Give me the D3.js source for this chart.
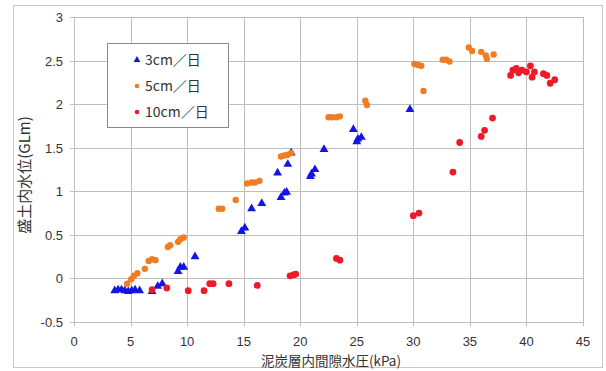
<!DOCTYPE html>
<html>
<head>
<meta charset="utf-8">
<script src="https://cdn.jsdelivr.net/npm/d3@7"></script>
<style>
  body { margin: 0; background: #fff; }
  svg text { font-family: "Noto Sans CJK JP", "Liberation Sans", sans-serif; fill: #333; }
  svg text.num { font-family: "Liberation Sans", sans-serif; }
</style>
</head>
<body>
<svg id="chart" width="606" height="371"></svg>
<script>
'use strict';

// 3cm/日
var rate3 = [
  [3.6, -0.14], [3.9, -0.13], [4.2, -0.13], [4.5, -0.14], [4.8, -0.15], [5.1, -0.14],
  [5.4, -0.13], [5.8, -0.14], [6.9, -0.15], [7.4, -0.09], [7.8, -0.06], [9.2, 0.08],
  [9.4, 0.13], [9.7, 0.13], [10.7, 0.25], [14.8, 0.54], [15.1, 0.58], [15.7, 0.8],
  [16.6, 0.86], [18.3, 0.93], [18.6, 0.98], [18.8, 0.99], [18.0, 1.21], [18.9, 1.31],
  [19.2, 1.44], [20.9, 1.17], [21.0, 1.2], [21.3, 1.25], [22.1, 1.48], [24.7, 1.71],
  [25.0, 1.57], [25.1, 1.6], [25.4, 1.62], [29.7, 1.94]
];

// 5cm/日
var rate5 = [
  [4.7, -0.06], [5.06, -0.01], [5.3, 0.03], [5.6, 0.06], [6.26, 0.11], [6.6, 0.2],
  [6.9, 0.22], [7.2, 0.21], [8.3, 0.36], [8.5, 0.38], [9.2, 0.42], [9.4, 0.45],
  [9.7, 0.47], [12.8, 0.8], [13.1, 0.8], [14.3, 0.9], [15.3, 1.09], [15.7, 1.1],
  [16.0, 1.1], [16.4, 1.12], [18.3, 1.4], [18.6, 1.41], [18.9, 1.42], [19.2, 1.44],
  [22.5, 1.85], [22.8, 1.85], [23.2, 1.85], [23.5, 1.86], [25.75, 2.04], [25.9, 1.99],
  [30.1, 2.46], [30.4, 2.45], [30.7, 2.44], [30.9, 2.15], [32.6, 2.51], [32.9, 2.51],
  [33.2, 2.49], [34.9, 2.65], [35.2, 2.61], [36.0, 2.6], [36.4, 2.56], [36.5, 2.52],
  [37.1, 2.57]
];

// 10cm/日
var rate10 = [
  [6.9, -0.13], [8.2, -0.11], [10.1, -0.14], [11.5, -0.14], [12.0, -0.06], [12.3, -0.06],
  [13.7, -0.06], [16.2, -0.08], [19.1, 0.03], [19.4, 0.04], [19.6, 0.05], [23.2, 0.23],
  [23.5, 0.21], [30.0, 0.72], [30.5, 0.75], [33.5, 1.22], [34.1, 1.56], [36.0, 1.63],
  [36.3, 1.7], [37.0, 1.84], [38.6, 2.33], [38.8, 2.39], [39.1, 2.41], [39.3, 2.36],
  [39.6, 2.39], [40.0, 2.37], [40.35, 2.44], [40.5, 2.31], [40.7, 2.37], [41.5, 2.35],
  [41.8, 2.33], [42.1, 2.24], [42.5, 2.28]
];

var seriesNames = ['3cm／日', '5cm／日', '10cm／日'];
var xTicks = [0, 5, 10, 15, 20, 25, 30, 35, 40, 45];
var yTicks = [-0.5, 0, 0.5, 1, 1.5, 2, 2.5, 3];
var xTitle = '泥炭層内間隙水圧(kPa)';
var yTitle = '盛土内水位(GLm)';

var svg = d3.select('#chart');

// outer frame
svg.append('rect')
  .attr('x', 13.5).attr('y', 5.5)
  .attr('width', 589).attr('height', 362)
  .attr('fill', 'none').attr('stroke', '#c8c8c8');

var x = d3.scaleLinear().domain([0, 45]).range([74, 583]);
var y = d3.scaleLinear().domain([-0.5, 3]).range([322, 17]);

// grid
var grid = svg.append('g').attr('stroke', '#bdbdbd').attr('stroke-width', 1);
xTicks.forEach(function(t) {
  var px = Math.round(x(t)) + 0.5;
  grid.append('line').attr('x1', px).attr('x2', px)
    .attr('y1', y(3)).attr('y2', y(-0.5) + 4);
});
yTicks.forEach(function(t) {
  var py = Math.round(y(t)) + 0.5;
  grid.append('line').attr('x1', x(0) - 4).attr('x2', x(45))
    .attr('y1', py).attr('y2', py);
});

// tick labels
svg.append('g').selectAll('text').data(yTicks).enter().append('text')
  .attr('class', 'num')
  .attr('x', 63).attr('y', function(d) { return y(d) + 5; })
  .attr('text-anchor', 'end').attr('font-size', 13)
  .text(function(d) { return d; });

svg.append('g').selectAll('text').data(xTicks).enter().append('text')
  .attr('class', 'num')
  .attr('x', function(d) { return x(d); }).attr('y', 346)
  .attr('text-anchor', 'middle').attr('font-size', 13)
  .text(function(d) { return d; });

// axis titles
svg.append('text')
  .attr('x', 331).attr('y', 366)
  .attr('text-anchor', 'middle').attr('font-size', 13.5)
  .text(xTitle);

svg.append('text')
  .attr('transform', 'translate(30,175) rotate(-90)')
  .attr('text-anchor', 'middle').attr('font-size', 15)
  .text(yTitle);

// points
var tri = d3.symbol().type(d3.symbolTriangle).size(34);

svg.append('g').selectAll('path').data(rate3).enter().append('path')
  .attr('d', tri)
  .attr('transform', function(d) { return 'translate(' + x(d[0]) + ',' + y(d[1]) + ')'; })
  .attr('fill', '#1414e6');

svg.append('g').selectAll('circle').data(rate5).enter().append('circle')
  .attr('cx', function(d) { return x(d[0]); })
  .attr('cy', function(d) { return y(d[1]); })
  .attr('r', 3.2)
  .attr('fill', '#f07d23');

svg.append('g').selectAll('circle').data(rate10).enter().append('circle')
  .attr('cx', function(d) { return x(d[0]); })
  .attr('cy', function(d) { return y(d[1]); })
  .attr('r', 3.4)
  .attr('fill', '#ee1a2a');

// legend
var legend = svg.append('g');
legend.append('rect')
  .attr('x', 107.5).attr('y', 43.5).attr('width', 121).attr('height', 84)
  .attr('fill', '#fff').attr('stroke', '#8a8a8a');

var legendY = [60, 86, 112];
var legendColors = ['#1414e6', '#f07d23', '#ee1a2a'];
seriesNames.forEach(function(name, i) {
  if (i === 0) {
    legend.append('path')
      .attr('d', d3.symbol().type(d3.symbolTriangle).size(20))
      .attr('transform', 'translate(137,' + legendY[i] + ')')
      .attr('fill', legendColors[i]);
  } else {
    legend.append('circle')
      .attr('cx', 137).attr('cy', legendY[i]).attr('r', 2.3)
      .attr('fill', legendColors[i]);
  }
  legend.append('text')
    .attr('x', 145).attr('y', legendY[i] + 5)
    .attr('font-size', 14)
    .text(name);
});
</script>
</body>
</html>
